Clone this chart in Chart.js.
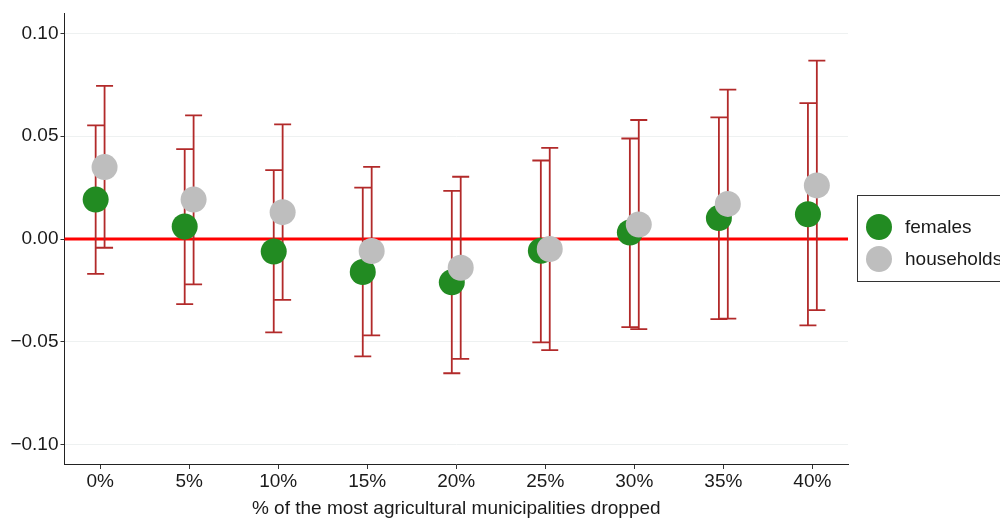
<!DOCTYPE html>
<html>
<head>
<meta charset="utf-8">
<script src="https://cdn.jsdelivr.net/npm/chart.js@4/dist/chart.umd.min.js"></script>
<style>
  body { margin: 0; background: #fff; }
  #wrap { width: 1000px; height: 519px; }
</style>
</head>
<body>
<div id="wrap"><canvas id="coef_chart" width="1000" height="519"></canvas></div>
<script>
// data
const categories      = ['0%','5%','10%','15%','20%','25%','30%','35%','40%'];
const femalesEst      = [0.0192, 0.0061, -0.0060, -0.0160, -0.0210, -0.0057, 0.0032, 0.0102, 0.0121];
const femalesLow      = [-0.0169, -0.0316, -0.0453, -0.0570, -0.0652, -0.0502, -0.0428, -0.0389, -0.0419];
const femalesHigh     = [0.0553, 0.0437, 0.0335, 0.0250, 0.0234, 0.0382, 0.0489, 0.0592, 0.0661];
const householdsEst   = [0.0350, 0.0192, 0.0131, -0.0058, -0.0139, -0.0048, 0.0071, 0.0171, 0.0261];
const householdsLow   = [-0.0042, -0.0220, -0.0295, -0.0468, -0.0582, -0.0540, -0.0437, -0.0386, -0.0345];
const householdsHigh  = [0.0745, 0.0601, 0.0558, 0.0351, 0.0303, 0.0443, 0.0579, 0.0727, 0.0867];
const yTicks          = [-0.10, -0.05, 0.00, 0.05, 0.10];

const coef_chart = document.getElementById('coef_chart');
const FONT = "'Liberation Sans', Arial, sans-serif";
const offset = 0.05;

const toPoints = (vals, shift) => vals.map((v, i) => ({ x: i + 1 + shift, y: v }));

const fmtY = v => {
    if (Math.abs(v) < 1e-9) return '0.00';
    return (v < 0 ? '\u2212' : '') + Math.abs(v).toFixed(2);
};

// zero line + error bars, drawn under the points
const errorBars = {
    id: 'errorBars',
    beforeDatasetsDraw(chart) {
        const { ctx, chartArea, scales: { x, y } } = chart;
        ctx.save();
        // red zero line
        const y0 = y.getPixelForValue(0);
        ctx.strokeStyle = '#ff0000';
        ctx.lineWidth = 3;
        ctx.beginPath();
        ctx.moveTo(chartArea.left, y0);
        ctx.lineTo(chartArea.right, y0);
        ctx.stroke();

        ctx.strokeStyle = '#b22a2a';
        ctx.lineWidth = 1.8;
        chart.data.datasets.forEach(ds => {
            ds.data.forEach((p, i) => {
                const px = x.getPixelForValue(p.x);
                const lo = y.getPixelForValue(ds.low[i]);
                const hi = y.getPixelForValue(ds.high[i]);
                ctx.beginPath();
                ctx.moveTo(px, lo); ctx.lineTo(px, hi);
                ctx.moveTo(px - 8.5, lo); ctx.lineTo(px + 8.5, lo);
                ctx.moveTo(px - 8.5, hi); ctx.lineTo(px + 8.5, hi);
                ctx.stroke();
            });
        });
        ctx.restore();
    }
};

// legend box at the right, runs off the canvas like the original
const sideLegend = {
    id: 'sideLegend',
    afterDraw(chart) {
        const { ctx } = chart;
        ctx.save();
        ctx.strokeStyle = '#333';
        ctx.lineWidth = 1;
        ctx.strokeRect(857.5, 195.5, 200, 86);
        ctx.font = '19px ' + FONT;
        ctx.textBaseline = 'middle';
        chart.data.datasets.forEach((ds, i) => {
            const cy = 227 + i * 32;
            ctx.fillStyle = ds.backgroundColor;
            ctx.beginPath();
            ctx.arc(879, cy, 13, 0, Math.PI * 2);
            ctx.fill();
            ctx.fillStyle = '#1a1a1a';
            ctx.fillText(ds.label, 905, cy + 1);
        });
        ctx.restore();
    }
};

var coef_chart_ref = new Chart(coef_chart, {
    type: 'scatter',
    data: {
        datasets: [{
            label: 'females',
            data: toPoints(femalesEst, -offset),
            low: femalesLow,
            high: femalesHigh,
            backgroundColor: '#228b22',
            borderWidth: 0,
            pointRadius: 13,
            pointHoverRadius: 13,
            order: 1
        }, {
            label: 'households',
            data: toPoints(householdsEst, offset),
            low: householdsLow,
            high: householdsHigh,
            backgroundColor: '#bebebe',
            borderWidth: 0,
            pointRadius: 13,
            pointHoverRadius: 13,
            order: 0
        }]
    },
    options: {
        responsive: false,
        animation: false,
        layout: { padding: { top: 12, right: 152, bottom: 0, left: 0 } },
        plugins: {
            legend: { display: false },
            tooltip: { enabled: false }
        },
        scales: {
            x: {
                type: 'linear',
                min: 0.6,
                max: 9.4,
                afterBuildTicks: axis => { axis.ticks = categories.map((c, i) => ({ value: i + 1 })); },
                afterFit: axis => { axis.height = 55; },
                ticks: {
                    callback: v => categories[Math.round(v) - 1],
                    color: '#1a1a1a',
                    font: { family: FONT, size: 19 },
                    padding: 1,
                    maxRotation: 0
                },
                grid: { drawOnChartArea: false, tickLength: 5, tickColor: '#333' },
                border: { color: '#222', width: 1 },
                title: {
                    display: true,
                    text: '% of the most agricultural municipalities dropped',
                    color: '#1a1a1a',
                    font: { family: FONT, size: 19 },
                    padding: { top: 4, bottom: -1 }
                }
            },
            y: {
                min: -0.1093,
                max: 0.1097,
                afterBuildTicks: axis => { axis.ticks = yTicks.map(v => ({ value: v })); },
                afterFit: axis => { axis.width = 64.5; },
                ticks: {
                    callback: v => fmtY(v),
                    color: '#1a1a1a',
                    font: { family: FONT, size: 19 },
                    padding: 2
                },
                grid: { color: '#eef1f1', tickLength: 4, tickColor: '#333' },
                border: { color: '#222', width: 1 }
            }
        }
    },
    plugins: [errorBars, sideLegend]
});
</script>
</body>
</html>
